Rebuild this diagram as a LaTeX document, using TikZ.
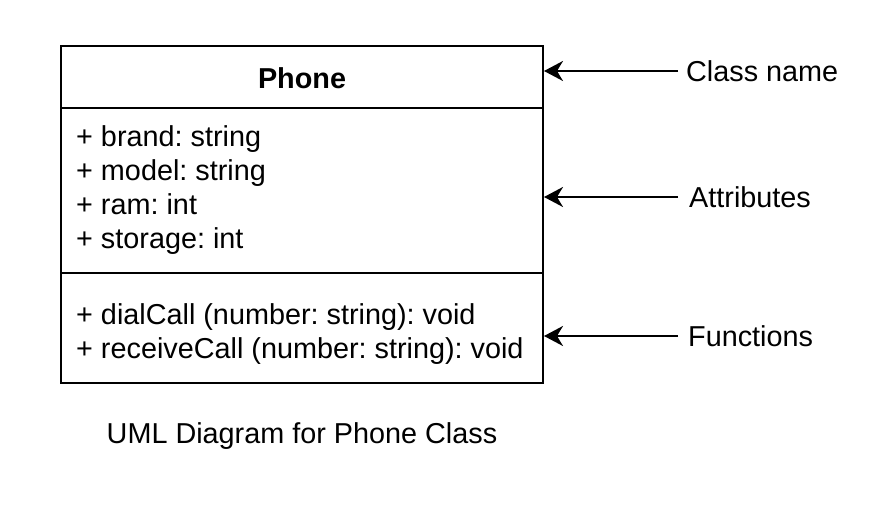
\documentclass[tikz,border=0pt]{standalone}
\usepackage{fontspec}
\setmainfont{Liberation Sans}
\usetikzlibrary{arrows.meta}
\frenchspacing
\begin{document}
\begin{tikzpicture}[x=1pt,y=-1pt,
  every node/.style={font=\fontsize{28.8}{34}\selectfont},
  part/.style={draw,line width=2pt,minimum width=482pt,inner sep=0pt},
  txt/.style={anchor=base west,inner sep=0pt},
  lbl/.style={anchor=west,inner sep=8pt,text height=20.6pt,text depth=0pt},
  pointer/.style={line width=2pt,-{Stealth[length=19pt,width=20pt,inset=6pt]}}]
\useasboundingbox (0,0) rectangle (895,505);
\node[part,minimum height=62pt] (title) at (302,77) {};
\node[part,minimum height=165pt] (attrs) at (302,190.5) {};
\node[part,minimum height=110pt] (meths) at (302,328) {};
\node[anchor=base,inner sep=0pt,font=\fontsize{28.8}{34}\selectfont\bfseries] (tname) at (302,89) {Phone};
\node[txt] (a1) at (76,147) {+ brand: string};
\node[txt] (a2) at (76,181) {+ model: string};
\node[txt] (a3) at (76,215) {+ ram: int};
\node[txt] (a4) at (76,248.5) {+ storage: int};
\node[txt] (m1) at (76,325) {+ dialCall (number: string): void};
\node[txt] (m2) at (76,358) {+ receiveCall (number: string): void};
\node[lbl] (lc) at (678,71) {Class name};
\node[lbl] (la) at (681,197) {Attributes};
\node[lbl] (lf) at (680,336) {Functions};
\node[anchor=base,inner sep=0pt] (cap) at (302,443) {UML Diagram for Phone Class};
\draw[pointer] (lc.west) -- (lc.west -| title.east);
\draw[pointer] ([xshift=-3pt]la.west) -- (la.west -| attrs.east);
\draw[pointer] ([xshift=-2pt]lf.west) -- (lf.west -| meths.east);
\end{tikzpicture}
\end{document}
